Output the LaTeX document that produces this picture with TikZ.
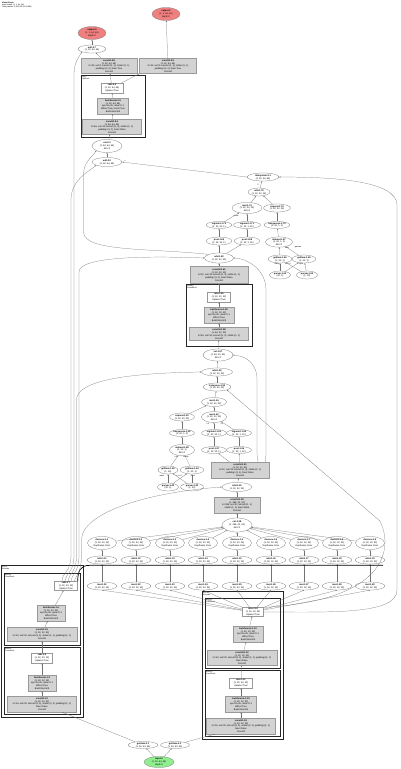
\documentclass[tikz,border=0pt]{standalone}
\usepackage{fontspec}
\setmainfont{Liberation Sans}
\usetikzlibrary{shapes.geometric,arrows.meta}
\definecolor{lcoral}{HTML}{F08080}
\definecolor{lgreen}{HTML}{90EE90}
\definecolor{gfill}{HTML}{D3D3D3}
\newcommand\EL[6]{\node[el,minimum width=#4pt,minimum height=#5pt] (#1) at (#2,#3) {#6};}
\newcommand\GB[6]{\node[gb,minimum width=#4pt,minimum height=#5pt] (#1) at (#2,#3) {#6};}
\newcommand\WB[6]{\node[wb,minimum width=#4pt,minimum height=#5pt] (#1) at (#2,#3) {#6};}
\begin{document}
\begin{tikzpicture}[x=1pt,y=-1pt,
 every node/.style={font=\fontsize{2.3}{2.8}\selectfont,align=center},
 el/.style={ellipse,draw=black!55,line width=0.25pt,inner sep=0pt,fill=white},
 gb/.style={rectangle,draw=black!40,fill=gfill,line width=0.25pt,inner sep=0.3pt},
 wb/.style={rectangle,draw=black!40,fill=white,line width=0.25pt,inner sep=0.3pt},
 ar/.style={draw=black!55,line width=0.22pt,-{Stealth[length=1.5pt,width=1.2pt]}},
 clu/.style={draw=black!85,line width=0.8pt},
 cl/.style={anchor=north west,align=left,inner sep=0pt,font=\fontsize{1.9}{2.3}\selectfont},
 lab/.style={inner sep=0pt,font=\fontsize{1.9}{2.3}\selectfont}]
\fill[white] (0,0) rectangle (400,769);
\useasboundingbox (0,0) rectangle (400,769);

% header
\node[cl] (hdr) at (2,1.5) {\textbf{Model Graph}\\Input shape: (1, 1, 64, 64)\\Total params: 1,552,065 (5.92 MB)};

% clusters
\draw[clu] (81,75) rectangle (145,137);
\node[cl] (c1l) at (82,76) {Up-3\\UpBlock};
\draw[clu] (186,284) rectangle (252,346);
\node[cl] (c2l) at (187,285) {Down-2\\DownBlock};
\draw[clu] (1,565) rectangle (83,717);
\node[cl] (c3l) at (2,566) {Enc-1\\Encoder};
\draw[clu] (4,573) rectangle (80.5,645);
\node[cl] (c4l) at (5,574) {Block-1\\ConvBlock};
\draw[clu] (4,647) rectangle (80.5,714.5);
\node[cl] (c5l) at (5,648) {Block-0\\ConvBlock};
\draw[clu] (202,591) rectangle (283,739);
\node[cl] (c6l) at (203,592) {Enc-2\\Encoder};
\draw[clu] (205,598) rectangle (280,668);
\node[cl] (c7l) at (206,599) {Block-1\\ConvBlock};
\draw[clu] (205,670) rectangle (280,736.5);
\node[cl] (c8l) at (206,671) {Block-0\\ConvBlock};

% top part
\node[el,fill=lcoral,minimum width=28pt,minimum height=13pt] (red1) at (166,14) {\textbf{output-1}\\(1, 3, 64, 64)\\depth:0};
\node[el,fill=lcoral,minimum width=28pt,minimum height=13pt] (red2) at (92,33) {\textbf{output-0}\\(1, 1, 64, 64)\\depth:0};
\EL{e1}{92}{49}{28}{8}{\textbf{add-2.7}\\(1, 32, 64, 64)}
\GB{g1}{109}{66}{56}{15}{\textbf{conv2d-2.8}\\(1, 32, 64, 64)\\in=32, out=1, kernel=(1, 1), stride=(1, 1)\\padding=(0, 0), bias=True\\Conv2d}
\GB{g2}{168}{66}{57}{15}{\textbf{conv2d-2.9}\\(1, 32, 64, 64)\\in=32, out=3, kernel=(1, 1), stride=(1, 1)\\padding=(0, 0), bias=True\\Conv2d}
\WB{w1}{112}{88}{22}{10}{\textbf{relu-2.6}\\(1, 32, 64, 64)\\inplace=True}
\GB{g3}{113}{106}{31}{16}{\textbf{batchnorm-2.5}\\(1, 32, 64, 64)\\eps=1e-05, mom=0.1\\affine=True, track=True\\BatchNorm2d}
\GB{g4}{112}{127}{59}{15}{\textbf{conv2d-2.4}\\(1, 64, 64, 64)\\in=64, out=32, kernel=(3, 3), stride=(1, 1)\\padding=(1, 1), bias=False\\Conv2d}
\EL{e2}{107}{146}{30}{13}{\textbf{cat-2.3}\\(1, 64, 64, 64)\\dim=1}
\EL{e3}{107}{162}{30}{9}{\textbf{add-2.2}\\(1, 32, 64, 64)}
\EL{e4}{263}{177}{32}{8}{\textbf{interpolate-2.1}\\(1, 32, 64, 64)}
\EL{e5}{259}{192}{22}{8}{\textbf{add-1.75}\\(1, 32, 32, 32)}
\EL{e6}{247}{208}{30}{11}{\textbf{mul-1.74}\\(1, 32, 32, 32)\\dim=1}
\EL{e7}{277}{208}{27}{8}{\textbf{expand-1.73}\\(1, 32, 32, 32)}
\EL{e8}{219}{225}{26}{7}{\textbf{sigmoid-1.72}\\(1, 32, 32, 1)}
\EL{e9}{247}{225}{27}{7}{\textbf{sigmoid-1.71}\\(1, 32, 1, 32)}
\EL{e10}{277}{225}{26}{7}{\textbf{unsqueeze-1.70}\\(1, 32, 1, 1)}
\EL{e11}{219}{241}{26}{8}{\textbf{pool-1.69}\\(1, 32, 32, 1)}
\EL{e12}{247}{241}{26}{8}{\textbf{pool-1.68}\\(1, 32, 1, 32)}
\EL{e13}{279}{242}{27}{10}{\textbf{matmul-1.67}\\(1, 32, 1, 1)\\dim=1}
\EL{e14}{280}{259}{24}{8}{\textbf{getitem-1.66}\\(1, 32, 1)}
\EL{e15}{304}{259}{24}{8}{\textbf{getitem-1.65}\\(1, 32, 1)}
\EL{e16}{280}{275}{21}{8}{\textbf{param-1.64}\\(32, 1)}
\EL{e17}{307}{275}{21}{8}{\textbf{param-1.63}\\(1, 32)}
\EL{add1}{219}{258}{29}{10}{\textbf{add-1.62}\\(1, 32, 32, 32)}
\GB{g5}{219}{275}{58}{17}{\textbf{conv2d-1.61}\\(1, 32, 32, 32)\\in=32, out=32, kernel=(3, 3), stride=(1, 1)\\padding=(1, 1), bias=False\\Conv2d}
\WB{w2}{219}{297}{23}{10}{\textbf{relu-1.60}\\(1, 32, 32, 32)\\inplace=True}
\GB{g6}{219}{315}{30}{16}{\textbf{batchnorm-1.59}\\(1, 32, 32, 32)\\eps=1e-05, mom=0.1\\affine=True\\BatchNorm2d}
\GB{g7}{219}{334}{59}{13}{\textbf{conv2d-1.58}\\(1, 64, 32, 32)\\in=64, out=32, kernel=(3, 3), stride=(1, 1)\\Conv2d}
\EL{e18}{218}{355}{30}{12}{\textbf{cat-1.57}\\(1, 64, 32, 32)\\dim=1}
\EL{e19}{217}{372}{31}{8}{\textbf{add-1.56}\\(1, 32, 32, 32)}
\EL{e20}{217}{387}{28}{8}{\textbf{transpose-1.55}\\(1, 32, 32, 32)}
\EL{e21}{214}{402}{25}{9}{\textbf{mul-1.54}\\(1, 32, 32, 32)}
\EL{e22}{182}{417}{25}{8}{\textbf{expand-1.53}\\(1, 32, 32, 32)}
\EL{e23}{214}{417}{25}{11}{\textbf{mul-1.52}\\(1, 32, 32, 32)\\dim=1}
\EL{e24}{182}{433}{25}{7}{\textbf{unsqueeze-1.51}\\(1, 32, 1, 1)}
\EL{e25}{214}{433}{25}{7}{\textbf{sigmoid-1.50}\\(1, 32, 32, 1)}
\EL{e26}{239}{433}{25}{7}{\textbf{sigmoid-1.49}\\(1, 32, 1, 32)}
\EL{e27}{182}{450}{25}{11}{\textbf{matmul-1.48}\\(1, 32, 1)\\dim=1}
\EL{e28}{214}{450}{25}{7}{\textbf{pool-1.47}\\(1, 32, 32, 1)}
\EL{e29}{239}{450}{25}{7}{\textbf{pool-1.46}\\(1, 32, 1, 32)}
\EL{e30}{168}{470}{20}{8}{\textbf{getitem-1.45}\\(1, 32)}
\EL{e31}{192}{470}{24}{8}{\textbf{getitem-1.44}\\(1, 32, 1)}
\EL{e32}{168}{487}{21}{8}{\textbf{param-1.43}\\(32, 1)}
\EL{e33}{192}{487}{23}{8}{\textbf{param-1.42}\\(1, 32)}
\GB{g8}{240}{470}{58}{16}{\textbf{conv2d-1.41}\\(1, 32, 32, 32)\\in=32, out=32, kernel=(3, 3), stride=(1, 1)\\padding=(1, 1), bias=False\\Conv2d}
\EL{e34}{237}{487}{30}{9}{\textbf{add-1.40}\\(1, 32, 32, 32)}
\GB{g9}{237}{505}{46}{16}{\textbf{conv2d-1.39}\\(1, 288, 32, 32)\\in=288, out=32, kernel=(1, 1)\\stride=(1, 1), bias=False\\Conv2d}
\EL{cat}{237}{525}{30}{14}{\textbf{cat-1.38}\\(1, 288, 32, 32)\\dim=1}

% rows
\foreach \x [count=\i] in {102,136,170,203,237,271,304,337,370} {
  \node[el,minimum width=29pt,minimum height=13pt] (ra\i) at (\x,543) {\textbf{dwconv-1.\i}\\(1, 32, 32, 32)\\Depthwise Conv};
  \node[el,minimum width=30pt,minimum height=8pt] (rb\i) at (\x,560) {\textbf{add-1.1\i}\\(1, 32, 32, 32)};
  \node[el,minimum width=30pt,minimum height=8pt] (rc\i) at (\x,586) {\textbf{mul-1.2\i}\\(1, 32, 32, 32)};
}

% left encoder
\WB{w3}{66}{586}{23}{9}{\textbf{relu-1.7}\\(1, 32, 32, 32)\\inplace=True}
\GB{g10}{51}{613}{28}{16}{\textbf{batchnorm-1.6}\\(1, 32, 32, 32)\\eps=1e-05, mom=0.1\\affine=True\\BatchNorm2d}
\GB{g11}{42}{634}{70}{14}{\textbf{conv2d-1.5}\\(1, 32, 32, 32)\\in=32, out=32, kernel=(3, 3), stride=(1, 1), padding=(1, 1)\\Conv2d}
\WB{w4}{42}{658}{21}{10}{\textbf{relu-1.4}\\(1, 32, 32, 32)\\inplace=True}
\GB{g12}{42}{683}{28}{16}{\textbf{batchnorm-1.3}\\(1, 32, 32, 32)\\eps=1e-05, mom=0.1\\affine=True\\BatchNorm2d}
\GB{g13}{42}{704}{69}{16}{\textbf{conv2d-1.2}\\(1, 32, 32, 32)\\in=16, out=32, kernel=(3, 3), stride=(2, 2), padding=(1, 1)\\bias=False\\Conv2d}
% right encoder
\WB{w5}{253}{612}{21}{9}{\textbf{relu-1.14}\\(1, 32, 32, 32)\\inplace=True}
\GB{g14}{248}{634}{30}{16}{\textbf{batchnorm-1.13}\\(1, 32, 32, 32)\\eps=1e-05, mom=0.1\\affine=True\\BatchNorm2d}
\GB{g15}{242}{658}{70}{15}{\textbf{conv2d-1.12}\\(1, 32, 32, 32)\\in=32, out=32, kernel=(3, 3), stride=(1, 1), padding=(1, 1)\\bias=False\\Conv2d}
\WB{w6}{241}{683}{23}{10}{\textbf{relu-1.11}\\(1, 32, 32, 32)\\inplace=True}
\GB{g16}{241}{704}{31}{16}{\textbf{batchnorm-1.10}\\(1, 32, 32, 32)\\eps=1e-05, mom=0.1\\affine=True\\BatchNorm2d}
\GB{g17}{241}{726}{69}{16}{\textbf{conv2d-1.9}\\(1, 32, 32, 32)\\in=16, out=32, kernel=(3, 3), stride=(2, 2), padding=(1, 1)\\bias=False\\Conv2d}

% bottom
\EL{b1}{143}{745}{30}{7}{\textbf{getitem-0.1}\\(1, 16, 64, 64)}
\EL{b2}{175}{745}{29}{7}{\textbf{getitem-0.2}\\(1, 16, 64, 64)}
\node[el,fill=lgreen,minimum width=30pt,minimum height=11pt] (inp) at (159,762) {\textbf{input-0}\\(1, 32, 64, 64)\\depth:0};

% edge labels
\node[lab] (l1) at (125,161) {x};
\node[lab] (l2) at (258,184.5) {0};
\node[lab] (l3) at (236,215.5) {chunk};
\node[lab] (l4) at (287,248) {mult};
\node[lab] (l5) at (298,247.5) {gamma};
\node[lab] (l6) at (277,264) {index};
\node[lab] (l7) at (288,264) {x.0 x.1};
\node[lab] (l8) at (301,264) {input};
\node[lab] (l9) at (208,423.5) {x.0};
\node[lab] (l10) at (222,423.5) {x.1};
\node[lab] (l11) at (176,457) {x.0};
\node[lab] (l12) at (186,457) {chunk};
\node[lab] (l13) at (162,476) {index};
\node[lab] (l14) at (179,475.5) {x.1 x.0};
\node[lab] (l15) at (193,476) {input};

% edges: bottom
\draw[ar] (inp) -- (b1);
\draw[ar] (inp) -- (b2);
\draw[ar] (b1) -- ([xshift=20pt]g13.south);
\draw[ar] (b2) -- ([xshift=-26pt]g17.south);
\draw[ar] (g13) -- (g12);
\draw[ar] (g12) -- (w4);
\draw[ar] (w4) -- (g11);
\draw[ar] (g11) -- (g10);
\draw[ar] (g10) -- (w3);
\draw[ar] (g17) -- (g16);
\draw[ar] (g16) -- (w6);
\draw[ar] (w6) -- (g15);
\draw[ar] (g15) -- (g14);
\draw[ar] (g14) -- (w5);
\foreach \i in {1,...,9} {
  \draw[ar] (w5) -- (rc\i.south);
  \draw[ar] (rc\i) -- (rb\i);
  \draw[ar] (rb\i) -- (ra\i);
  \draw[ar] (ra\i) -- (cat);
}
\coordinate (thickend) at (383,565.3);
\draw[line width=0.7pt,black] (w3.north east) .. controls (78,571) and (80,565.3) .. (90,565.3) -- (thickend);

% middle chain
\draw[ar] (cat) -- (g9);
\draw[ar] (g9) -- (e34);
\draw[ar] (e34) -- (g8);
\draw[ar] (g8) -- (e28);
\draw[ar] (g8) -- (e29);
\draw[ar] (e32) -- (e30);
\draw[ar] (e32) -- (e31);
\draw[ar] (e33) -- (e31);
\draw[ar] (e33) -- (e30);
\draw[ar] (e30) -- (e27);
\draw[ar] (e31) -- (e27);
\draw[ar] (e27) -- (e24);
\draw[ar] (e24) -- (e22);
\draw[ar] (e28) -- (e25);
\draw[ar] (e29) -- (e26);
\draw[ar] (e25) -- (e23);
\draw[ar] (e26) -- (e23);
\draw[ar] (e22) -- (e21);
\draw[ar] (e23) -- (e21);
\draw[ar] (e21) -- (e20);
\draw[ar] (e20) -- (e19);
\draw[ar] (e19) -- (e18);
\draw[ar] (e18) -- (g7);
\draw[ar] (g7) -- (g6);
\draw[ar] (g6) -- (w2);
\draw[ar] (w2) -- (g5);
\draw[ar] (g5) -- (add1);
\draw[ar] (add1) -- (e11);
\draw[ar] (add1) -- (e12);
\draw[ar] (e11) -- (e8);
\draw[ar] (e12) -- (e9);
\draw[ar] (e8) -- (e6);
\draw[ar] (e9) -- (e6);
\draw[ar] (e16) -- (e14);
\draw[ar] (e16) -- (e15);
\draw[ar] (e17) -- (e15);
\draw[ar] (e17) -- (e14);
\draw[ar] (e14) -- (e13);
\draw[ar] (e15) -- (e13);
\draw[ar] (e13) -- (e10);
\draw[ar] (e10) -- (e7);
\draw[ar] (e6) -- (e5);
\draw[ar] (e7) -- (e5);
\draw[ar] (e5) -- (e4);
\draw[ar] (e4.west) -- (e3.east);
\draw[ar] (e3) -- (e2);
\draw[ar] (e2) -- (g4);
\draw[ar] (g4) -- (g3);
\draw[ar] (g3) -- (w1);
\draw[ar] (w1) -- (g1);
\draw[ar] (w1) -- (g2.south west);
\draw[ar] (g1) -- (e1);
\draw[ar] (e1) -- (red2);
\draw[ar] (g2) -- (red1);

% long left routes
\draw[ar] ([xshift=-4pt]w3.north) .. controls (62,572) and (71,573) .. (71,555) -- (71,200) .. controls (71,180) and (88,172) .. (e3.south west);
\draw[ar] ([xshift=-1pt]w3.north) .. controls (66,572) and (74,573) .. (74,555) -- (74,75) .. controls (74,62) and (79,57) .. (e1.south west);
\draw[ar] ([xshift=2pt]w3.north) .. controls (69,573) and (76.5,573) .. (76.5,555) -- (76.5,400) .. controls (76.5,380) and (130,373) .. (e19.west);
\draw[ar] ([xshift=5pt]w3.north) .. controls (72,573) and (79,573) .. (79,555) -- (79,272) .. controls (79,256) and (150,256) .. (add1.west);
\draw[ar] ([xshift=8pt]w3.north) .. controls (76,575) and (81.5,573) .. (81.5,555) -- (81.5,540) .. controls (81.5,512) and (150,492) .. (e34.west);
\draw[ar] (add1.north west) .. controls (150,248) and (83.5,252) .. (83.5,232) -- (83.5,175) .. controls (83.5,162) and (92,157) .. (e2.south west);

% long right routes
\draw[ar] (w5.east) .. controls (330,612) and (397,615) .. (397,590) -- (397,205) .. controls (397,180) and (330,177) .. (e4.east);
\draw[ar] (w5.north east) .. controls (392,600) and (392,545) .. (380,521) -- (e20.south east);
\draw[ar] ([xshift=-4pt]g8.north east) .. controls (266,456) .. (266,445) -- (266,290) .. controls (266,268) and (245,258) .. (add1.east);
\draw[ar] ([xshift=-11pt]g8.north east) .. controls (257,456) .. (257,445) -- (257,380) .. controls (257,362) and (245,356) .. (e18.east);
\end{tikzpicture}
\end{document}
